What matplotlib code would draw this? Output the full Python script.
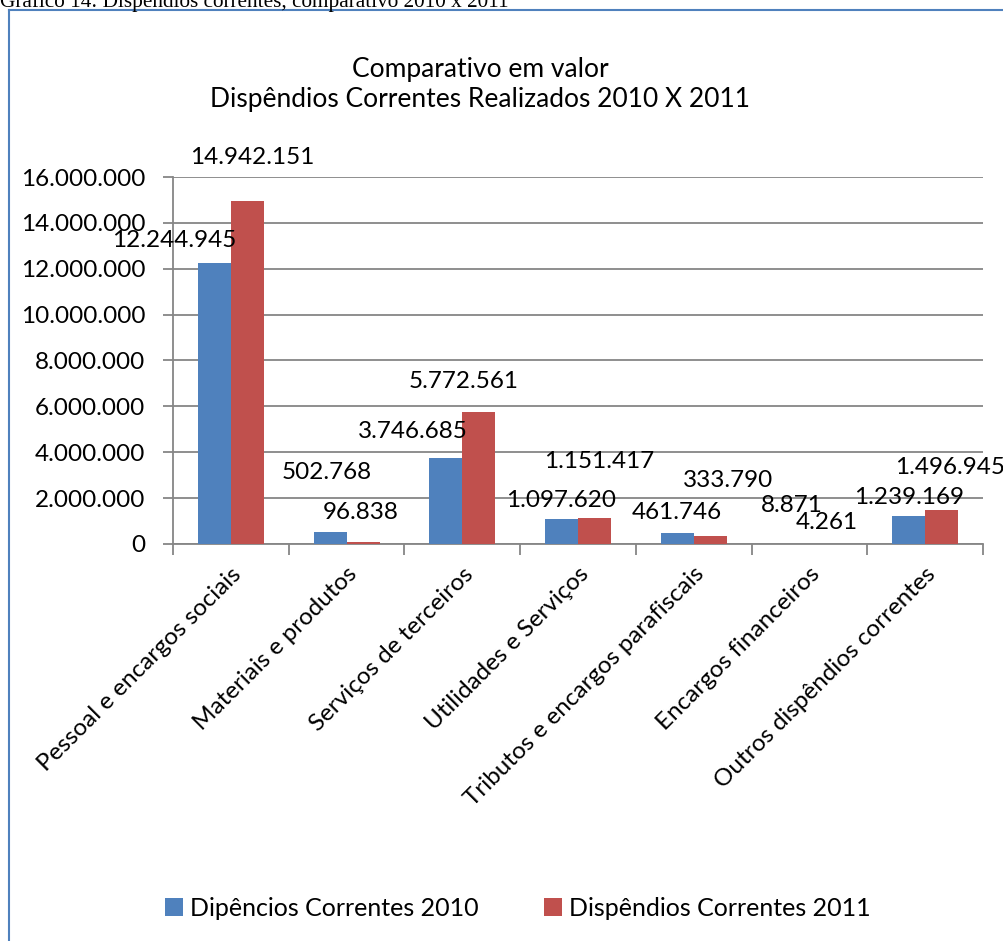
import matplotlib
matplotlib.use('Agg')
import matplotlib.pyplot as plt
from matplotlib.lines import Line2D
import numpy as np

categorias = ["Pessoal e encargos sociais", "Materiais e produtos", "Serviços de terceiros",
              "Utilidades e Serviços", "Tributos e encargos parafiscais", "Encargos financeiros",
              "Outros dispêndios correntes"]
valores_2010 = [12244945, 502768, 3746685, 1097620, 461746, 8871, 1239169]
valores_2011 = [14942151, 96838, 5772561, 1151417, 333790, 4261, 1496945]
rotulos_2010 = ["12.244.945", "502.768", "3.746.685", "1.097.620", "461.746", "8.871", "1.239.169"]
rotulos_2011 = ["14.942.151", "96.838", "5.772.561", "1.151.417", "333.790", "4.261", "1.496.945"]
yticks = [0, 2000000, 4000000, 6000000, 8000000, 10000000, 12000000, 14000000, 16000000]
ytick_labels = ["0", "2.000.000", "4.000.000", "6.000.000", "8.000.000", "10.000.000",
                "12.000.000", "14.000.000", "16.000.000"]

# where Excel dropped the data labels (pixel offsets from bar top centre)
off_2010 = [(-40, 23), (-3, 60), (-33, 27), (0, 18), (0, 21), (-1, 38), (0, 18)]
off_2011 = [(5, 44), (-2, 29), (-15, 30), (5, 56), (18, 56), (1, 21), (8, 42)]

azul = "#4F81BD"
vermelho = "#C0504D"
cinza = "#868686"
fs = 17.5

plt.rcParams['font.family'] = "Lato"

fig = plt.figure(figsize=(10.04, 9.41), dpi=100)
ax = fig.add_axes([0.1723, 0.4219, 0.8067, 0.39])

x = np.arange(len(categorias))
w = 0.285
b1 = ax.bar(x - w/2, valores_2010, w, color=azul, label="Dipêncios Correntes 2010", zorder=3)
b2 = ax.bar(x + w/2, valores_2011, w, color=vermelho, label="Dispêndios Correntes 2011", zorder=3)

for i in range(len(x)):
	ax.annotate(rotulos_2010[i], (x[i] - w/2, valores_2010[i]), xytext=off_2010[i],
		textcoords='offset pixels', ha='center', va='center', fontsize=fs)
	ax.annotate(rotulos_2011[i], (x[i] + w/2, valores_2011[i]), xytext=off_2011[i],
		textcoords='offset pixels', ha='center', va='center', fontsize=fs)

ax.set_xlim(-0.5, len(categorias) - 0.5)
ax.set_ylim(0, 16000000)
ax.set_yticks(yticks)
ax.set_yticklabels(ytick_labels, fontsize=fs)
ax.yaxis.grid(True, color=cinza, linewidth=1.3, zorder=0)
ax.set_axisbelow(True)

ax.set_xticks(x)
ax.set_xticklabels(categorias, rotation=45, ha='right', rotation_mode='anchor', fontsize=fs)
ax.tick_params(axis='x', length=0, pad=14)
ax.set_xticks(np.arange(len(categorias) + 1) - 0.5, minor=True)
ax.tick_params(axis='x', which='minor', length=8, width=1.3, color=cinza)
ax.tick_params(axis='y', length=7, width=1.3, color=cinza, pad=13)

for s in ['top', 'right']:
	ax.spines[s].set_visible(False)
for s in ['left', 'bottom']:
	ax.spines[s].set_color(cinza)
	ax.spines[s].set_linewidth(1.3)

fig.text(0.478, 0.918, "Comparativo em valor", ha='center', va='baseline', fontsize=19)
fig.text(0.478, 0.886, "Dispêndios Correntes Realizados 2010 X 2011", ha='center', va='baseline', fontsize=19)

leg = fig.legend(handles=[b1, b2], loc='center', bbox_to_anchor=(0.516, 0.035), ncol=2,
	frameon=False, fontsize=18, handlelength=0.7, handleheight=0.7, handletextpad=0.3,
	columnspacing=2.6)

# chart frame and caption above it
fig.add_artist(Line2D([0.009, 1.0], [0.989, 0.989], color=azul, linewidth=1.5, transform=fig.transFigure))
fig.add_artist(Line2D([0.009, 0.009], [0.0, 0.989], color=azul, linewidth=1.5, transform=fig.transFigure))
fig.text(0.0, 0.993, "Gráfico 14: Dispêndios correntes, comparativo 2010 x 2011",
	family='Liberation Serif', fontsize=15.3, ha='left', va='baseline')

plt.savefig("out.png", dpi=100)
